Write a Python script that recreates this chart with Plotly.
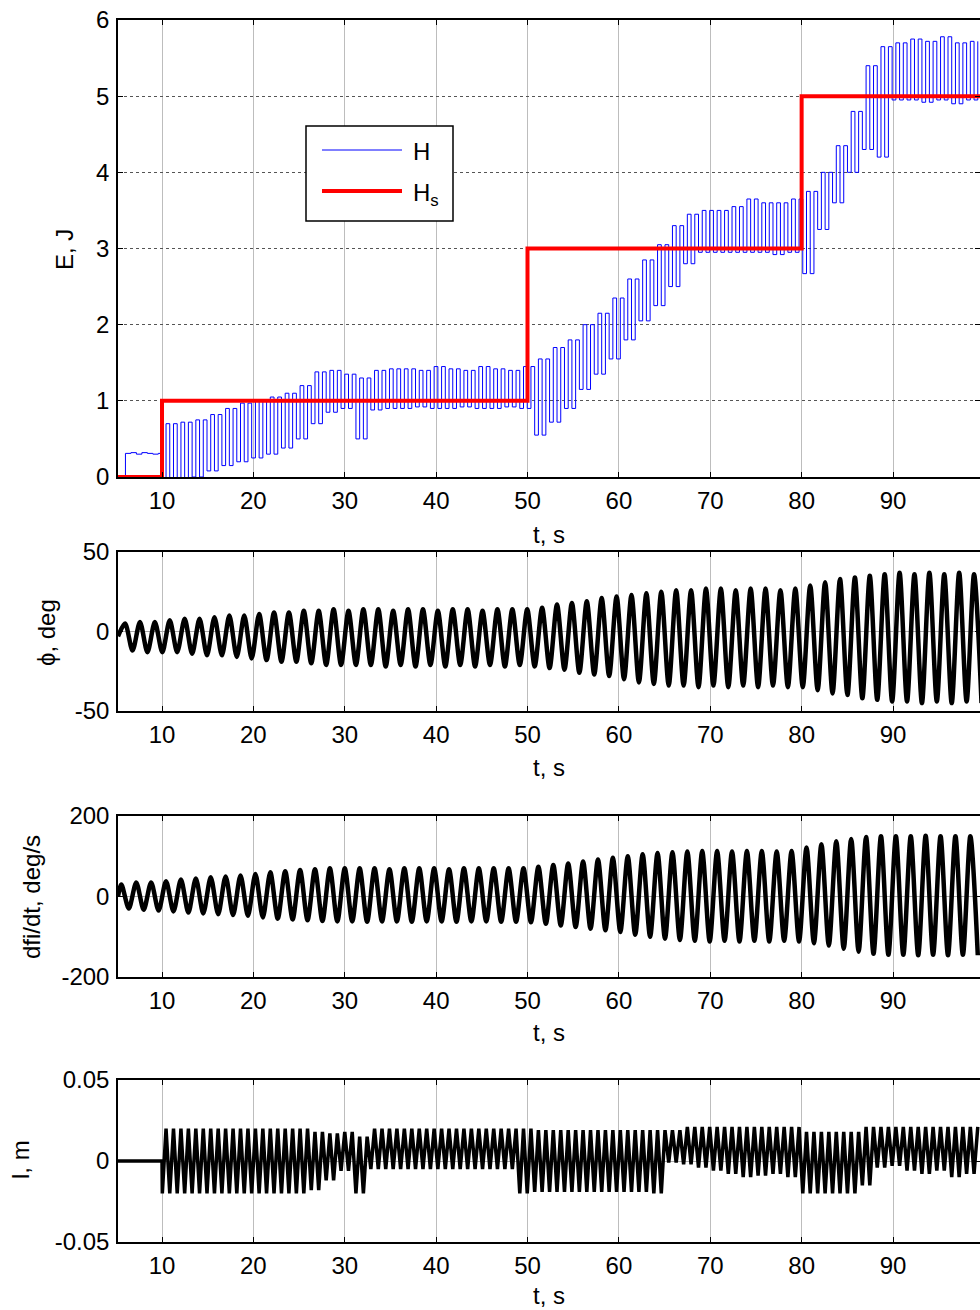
import plotly.graph_objects as go

FIG_W, FIG_H = 980, 1310
T_MIN, T_MAX = 5.185, 99.52

# --- pendulum swing maxima (s) ---
cycle_t = [5.96, 7.59, 9.22, 10.85, 12.48, 14.11, 15.74, 17.37, 19.00, 20.63,
           22.26, 23.89, 25.52, 27.15, 28.78, 30.41, 32.04, 33.67, 35.30, 36.93,
           38.56, 40.19, 41.82, 43.45, 45.08, 46.71, 48.34, 49.97, 51.60, 53.23,
           54.86, 56.49, 58.12, 59.75, 61.38, 63.01, 64.64, 66.27, 67.90, 69.53,
           71.16, 72.79, 74.42, 76.05, 77.68, 79.31, 80.94, 82.57, 84.20, 85.83,
           87.46, 89.09, 90.72, 92.35, 93.98, 95.61, 97.24, 98.87]

# --- angle phi (deg): start value, swing peaks and troughs per cycle ---
phi_start = -3
phi_peak = [5, 6, 6, 7, 8, 8, 9, 10, 10, 11, 12, 12, 13, 13, 14,
            13, 14, 14, 13, 14, 14, 13, 14, 14, 13, 14, 14, 14,
            15, 17, 18, 19, 21, 22,
            23, 24, 25, 26, 26, 27, 27, 26, 27, 27, 26, 27,
            29, 31, 33, 34, 35, 36,
            37, 36, 37, 36, 37, 36]
phi_trough = [-12, -13, -13, -13, -14, -15, -15, -16, -17, -18, -19, -19, -20, -21, -21,
              -21, -21, -22, -21, -22, -21, -22, -21, -22, -21, -22, -21, -22,
              -23, -24, -26, -27, -28, -30,
              -32, -33, -34, -34, -35, -34, -35, -34, -35, -34, -35, -35,
              -37, -39, -40, -42, -43, -44,
              -44, -45, -44, -45, -44, -45]

# --- angular rate dfi/dt (deg/s) ---
dphi_start = 0
dphi_peak = [30, 35, 35, 38, 42, 45, 48, 50, 52, 56, 60, 63, 66, 68, 70,
             70, 70, 70, 68, 70, 70, 70, 68, 70, 70, 70, 70, 70,
             74, 78, 82, 87, 92, 96,
             100, 105, 108, 110, 112, 113, 113, 112, 113, 113, 112, 113,
             122, 130, 137, 143, 148, 150,
             150, 150, 151, 150, 150, 150]
dphi_trough = [-30, -33, -35, -37, -40, -42, -44, -46, -48, -52, -55, -57, -59, -61, -62,
               -62, -63, -62, -62, -63, -62, -62, -63, -62, -62, -63, -63, -64,
               -68, -72, -76, -80, -84, -88,
               -95, -100, -105, -108, -110, -112, -110, -112, -110, -112, -110, -112,
               -116, -122, -130, -137, -142, -145,
               -145, -146, -145, -146, -145, -146]

# --- energy H (J) before the controller is switched on ---
h_pre_t = [5.19, 5.95, 6.0, 6.6, 7.2, 7.8, 8.4, 9.0, 9.6, 10.0]
h_pre_v = [0.0, 0.0, 0.31, 0.32, 0.30, 0.32, 0.31, 0.30, 0.31, 0.30]

# --- energy H (J) per cycle once control is active (cycles 3..57) ---
FIRST_CTRL_CYCLE = 3
h_hi = [0.70, 0.72, 0.75, 0.82, 0.90, 0.97, 1.00, 1.05, 1.10, 1.20,
        1.38, 1.40, 1.35, 1.30, 1.40, 1.42, 1.42, 1.40, 1.45, 1.42,
        1.40, 1.45, 1.42, 1.40, 1.45, 1.55, 1.70, 1.80, 2.00, 2.15,
        2.35, 2.60, 2.85, 3.05, 3.30, 3.45, 3.50, 3.50, 3.55, 3.65,
        3.60, 3.60, 3.65, 3.75, 4.00, 4.35, 4.80, 5.40, 5.65, 5.70,
        5.75, 5.72, 5.78, 5.70, 5.72]
h_lo = [-0.05, -0.05, 0.00, 0.08, 0.15, 0.20, 0.25, 0.30, 0.38, 0.50,
        0.70, 0.85, 0.90, 0.50, 0.88, 0.90, 0.90, 0.92, 0.90, 0.90,
        0.92, 0.90, 0.90, 0.92, 0.90, 0.55, 0.72, 0.90, 1.15, 1.35,
        1.55, 1.80, 2.05, 2.25, 2.50, 2.80, 2.95, 2.95, 2.95, 2.95,
        2.95, 2.92, 2.95, 2.67, 3.25, 3.60, 4.00, 4.30, 4.20, 4.95,
        4.95, 4.92, 4.95, 4.90, 4.95]

# --- reference energy Hs (J) ---
hs_switch_t = [10, 50, 80]
hs_levels = [0, 1, 3, 5]

# --- cart displacement l (m) per cycle once control is active ---
l_hi = [0.020, 0.020, 0.020, 0.020, 0.020, 0.020, 0.020, 0.020, 0.020, 0.020,
        0.018, 0.017, 0.018, 0.015, 0.020, 0.020, 0.020, 0.020, 0.020, 0.020,
        0.020, 0.020, 0.020, 0.020, 0.020, 0.019, 0.019, 0.019, 0.019, 0.019,
        0.019, 0.019, 0.019, 0.019, 0.019, 0.021, 0.021, 0.021, 0.021, 0.021,
        0.021, 0.021, 0.021, 0.018, 0.018, 0.018, 0.018, 0.021, 0.021, 0.021,
        0.021, 0.021, 0.021, 0.021, 0.021]
l_lo = [-0.020, -0.020, -0.020, -0.020, -0.020, -0.020, -0.020, -0.020, -0.020, -0.020,
        -0.018, -0.012, -0.006, -0.020, -0.005, -0.005, -0.005, -0.005, -0.005, -0.005,
        -0.005, -0.005, -0.005, -0.005, -0.020, -0.019, -0.019, -0.019, -0.019, -0.019,
        -0.019, -0.019, -0.019, -0.020, -0.001, -0.002, -0.004, -0.006, -0.008, -0.010,
        -0.009, -0.008, -0.010, -0.020, -0.020, -0.020, -0.020, -0.015, -0.004, -0.003,
        -0.006, -0.008, -0.006, -0.010, -0.008]

x_ticks = [10, 20, 30, 40, 50, 60, 70, 80, 90]


def half_period(k):
    if k < len(cycle_t) - 1:
        return (cycle_t[k + 1] - cycle_t[k]) / 2
    return (cycle_t[k] - cycle_t[k - 1]) / 2


# phi: start point, then peak at each cycle time and trough half a period later
phi_x, phi_y = [T_MIN], [phi_start]
for k, tk in enumerate(cycle_t):
    h = half_period(k)
    phi_x += [tk, tk + h]
    phi_y += [phi_peak[k], phi_trough[k]]

# dfi/dt leads phi by a quarter period
dphi_x, dphi_y = [T_MIN], [dphi_start]
for k, tk in enumerate(cycle_t):
    h = half_period(k)
    dphi_x += [tk - h / 2, tk + h / 2]
    dphi_y += [dphi_peak[k], dphi_trough[k]]

# H and l swing twice per pendulum cycle
h_x, h_y = list(h_pre_t), list(h_pre_v)
l_x, l_y = [T_MIN, 10.0], [0.0, 0.0]
for i, k in enumerate(range(FIRST_CTRL_CYCLE, len(cycle_t))):
    tk = cycle_t[k]
    h = half_period(k)
    ts = [tk - h, tk - h / 2, tk, tk + h / 2]
    h_x += ts
    h_y += [h_lo[i], h_hi[i], h_lo[i], h_hi[i]]
    l_x += ts
    l_y += [l_lo[i], l_hi[i], l_lo[i], l_hi[i]]

hs_x = [T_MIN] + hs_switch_t + [T_MAX]
hs_y = hs_levels + [hs_levels[-1]]

FONT = "Liberation Sans, Arial, sans-serif"
FS = 24
TICK_FONT = dict(family=FONT, size=FS, color="black")


def py(p):
    return 1 - p / FIG_H


def px(p):
    return p / FIG_W


panels = [  # (top px, bottom px)
    (20, 477), (552, 711), (816, 977), (1080, 1242)
]

fig = go.Figure()
fig.add_trace(go.Scatter(x=h_x, y=h_y, mode="lines", line=dict(color="#0000ff", width=1, shape="hv"),
                         xaxis="x", yaxis="y", name="H", showlegend=False))
fig.add_trace(go.Scatter(x=hs_x, y=hs_y, mode="lines", line=dict(color="#ff0000", width=4, shape="hv"),
                         xaxis="x", yaxis="y", name="Hs", showlegend=False))
fig.add_trace(go.Scatter(x=phi_x, y=phi_y, mode="lines",
                         line=dict(color="black", width=4.5, shape="spline", smoothing=0.8),
                         xaxis="x2", yaxis="y2", showlegend=False))
fig.add_trace(go.Scatter(x=dphi_x, y=dphi_y, mode="lines",
                         line=dict(color="black", width=4.5, shape="spline", smoothing=0.8),
                         xaxis="x3", yaxis="y3", showlegend=False))
fig.add_trace(go.Scatter(x=l_x, y=l_y, mode="lines", line=dict(color="black", width=3.5, shape="linear"),
                         xaxis="x4", yaxis="y4", showlegend=False))

y_specs = [
    dict(range=[0, 6], tickvals=[0, 1, 2, 3, 4, 5, 6], ticktext=["0", "1", "2", "3", "4", "5", "6"]),
    dict(range=[-50, 50], tickvals=[-50, 0, 50], ticktext=["-50", "0", "50"]),
    dict(range=[-200, 200], tickvals=[-200, 0, 200], ticktext=["-200", "0", "200"]),
    dict(range=[-0.05, 0.05], tickvals=[-0.05, 0, 0.05], ticktext=["-0.05", "0", "0.05"]),
]

layout = dict(
    width=FIG_W, height=FIG_H,
    margin=dict(l=0, r=0, t=0, b=0, pad=0),
    paper_bgcolor="white", plot_bgcolor="white",
    showlegend=False,
)

for i, ((top, bot), ys) in enumerate(zip(panels, y_specs)):
    sfx = "" if i == 0 else str(i + 1)
    layout["xaxis" + sfx] = dict(
        domain=[px(118), 1], range=[T_MIN, T_MAX], anchor="y" + sfx, automargin=False,
        tickvals=x_ticks, ticktext=[str(v) for v in x_ticks],
        ticks="inside", ticklen=5, tickcolor="black", tickwidth=1,
        showline=True, linecolor="black", linewidth=1.5, mirror="ticks",
        showgrid=True, gridcolor="#bdbdbd", gridwidth=1,
        zeroline=False, tickfont=TICK_FONT, ticklabelstandoff=1,
    )
    layout["yaxis" + sfx] = dict(
        domain=[py(bot), py(top)], anchor="x" + sfx, automargin=False,
        ticks="inside", ticklen=5, tickcolor="black", tickwidth=1,
        showline=True, linecolor="black", linewidth=1.5, mirror="ticks",
        showgrid=True, gridcolor="#555555" if i == 0 else "#a8a8a8", gridwidth=1,
        griddash="dot" if i == 0 else "solid",
        zeroline=False, tickfont=TICK_FONT, ticklabelstandoff=2,
        **ys,
    )

annotations = []
for ty in [534, 767, 1032, 1295]:
    annotations.append(dict(text="t, s", x=px(549), y=py(ty), xref="paper", yref="paper",
                            showarrow=False, xanchor="center", yanchor="middle",
                            font=dict(family=FONT, size=FS, color="black")))
for text, xp, yp in [("E, J", 65, 250), ("ϕ, deg", 46, 633),
                     ("dfi/dt, deg/s", 31, 897), ("l, m", 20, 1160)]:
    annotations.append(dict(text=text, x=px(xp), y=py(yp), xref="paper", yref="paper",
                            showarrow=False, xanchor="center", yanchor="middle", textangle=-90,
                            font=dict(family=FONT, size=FS, color="black")))

# legend box for the energy panel
shapes = [
    dict(type="rect", xref="paper", yref="paper", x0=px(306), x1=px(453), y0=py(221), y1=py(126),
         line=dict(color="black", width=1.5), fillcolor="white", layer="above"),
    dict(type="line", xref="paper", yref="paper", x0=px(322), x1=px(402), y0=py(150), y1=py(150),
         line=dict(color="#0000ff", width=1), layer="above"),
    dict(type="line", xref="paper", yref="paper", x0=px(322), x1=px(402), y0=py(191), y1=py(191),
         line=dict(color="#ff0000", width=4), layer="above"),
]
annotations.append(dict(text="H", x=px(411), y=py(151), xref="paper", yref="paper", showarrow=False,
                        xanchor="left", yanchor="middle", font=dict(family=FONT, size=FS, color="black")))
annotations.append(dict(text="H<sub>s</sub>", x=px(411), y=py(194), xref="paper", yref="paper", showarrow=False,
                        xanchor="left", yanchor="middle", font=dict(family=FONT, size=FS, color="black")))

layout["annotations"] = annotations
layout["shapes"] = shapes

fig.update_layout(**layout)
fig.write_html("out.html")
